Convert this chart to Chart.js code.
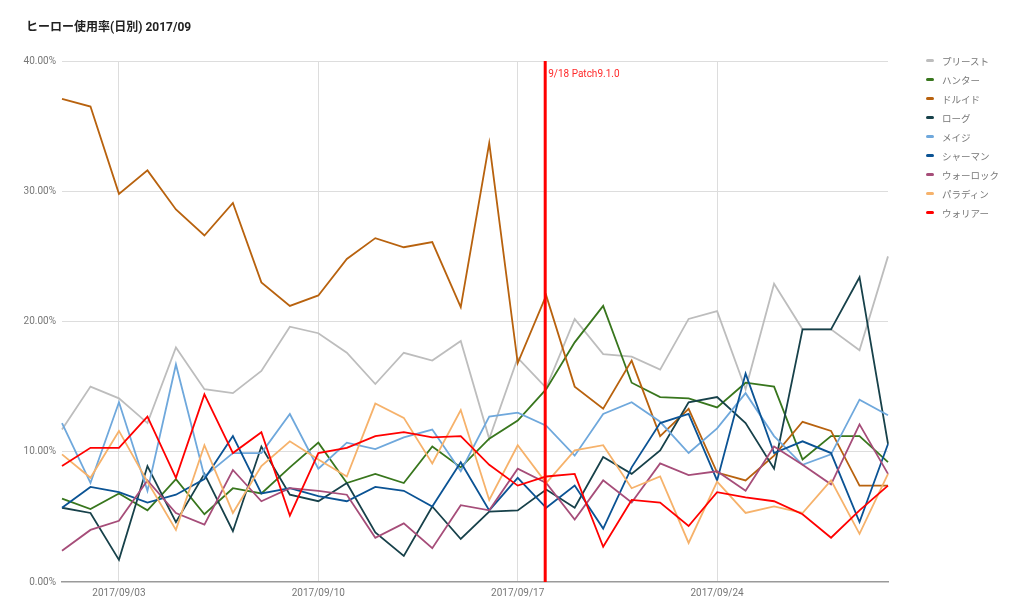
<!DOCTYPE html>
<html>
<head>
<meta charset="utf-8">
<script src="https://cdn.jsdelivr.net/npm/chart.js@4.4.1/dist/chart.umd.min.js"></script>
<style>
  html, body { margin: 0; padding: 0; background: #fff; }
  #wrap { position: relative; width: 1024px; height: 610px; }
  #title {
    position: absolute; left: 26px; top: 17px;
    font: bold 12px Roboto, "Noto Sans CJK JP", sans-serif; color: #222;
  }
  #legend { position: absolute; left: 926px; top: 51px; }
  .item {
    height: 19px; display: flex; align-items: center;
    font: 9.5px Roboto, "Noto Sans CJK JP", sans-serif; color: #777;
  }
  .mark { width: 8px; height: 3px; border-radius: 2px; margin-right: 8px; }
</style>
</head>
<body>
<div id="wrap">
  <canvas id="chart" width="1024" height="610"></canvas>
  <div id="title">ヒーロー使用率(日別) 2017/09</div>
  <div id="legend"></div>
</div>
<script>
// Days of September 2017
const days = ['2017/09/01','2017/09/02','2017/09/03','2017/09/04','2017/09/05','2017/09/06','2017/09/07','2017/09/08','2017/09/09','2017/09/10',
  '2017/09/11','2017/09/12','2017/09/13','2017/09/14','2017/09/15','2017/09/16','2017/09/17','2017/09/18','2017/09/19','2017/09/20',
  '2017/09/21','2017/09/22','2017/09/23','2017/09/24','2017/09/25','2017/09/26','2017/09/27','2017/09/28','2017/09/29','2017/09/30'];
const shownDays = ['2017/09/03', '2017/09/10', '2017/09/17', '2017/09/24'];

// Usage rate per hero (%)
const priest  = [11.7,15.0,14.1,12.2,18.0,14.8,14.5,16.2,19.6,19.1,17.6,15.2,17.6,17.0,18.5,11.0,17.2,14.9,20.2,17.5,17.3,16.3,20.2,20.8,14.8,22.9,19.4,19.4,17.8,25.0];
const hunter  = [6.4,5.6,6.8,5.5,7.9,5.2,7.2,6.8,8.8,10.7,7.6,8.3,7.6,10.4,8.8,11.0,12.4,14.8,18.4,21.2,15.3,14.2,14.1,13.4,15.3,15.0,9.4,11.2,11.2,9.2];
const druid   = [37.1,36.5,29.8,31.6,28.6,26.6,29.1,23.0,21.2,22.0,24.8,26.4,25.7,26.1,21.1,33.7,16.8,22.0,15.0,13.3,17.0,11.2,13.3,8.4,7.8,9.7,12.3,11.6,7.4,7.4];
const rogue   = [5.7,5.3,1.7,8.9,4.6,8.3,3.9,10.4,6.7,6.2,7.6,3.8,2.0,5.8,3.3,5.4,5.5,7.1,5.7,9.6,8.3,10.1,13.8,14.2,12.2,8.7,19.4,19.4,23.4,10.6];
const mage    = [12.2,7.6,13.8,7.0,16.7,8.1,9.9,9.9,12.9,8.7,10.7,10.2,11.1,11.7,8.5,12.7,13.0,12.0,9.7,12.9,13.8,12.3,9.9,11.8,14.5,11.2,9.0,9.8,14.0,12.8];
const shaman  = [5.7,7.3,6.9,6.1,6.7,7.9,11.2,6.8,7.2,6.6,6.2,7.3,7.0,5.8,9.2,5.5,8.0,5.7,7.4,4.1,8.8,12.2,12.9,7.8,16.0,9.9,10.8,9.9,4.6,10.6];
const warlock = [2.4,4.0,4.7,7.8,5.3,4.4,8.6,6.2,7.2,7.0,6.7,3.4,4.5,2.6,5.9,5.5,8.7,7.6,4.8,7.8,6.1,9.1,8.2,8.5,7.0,10.4,9.0,7.5,12.1,8.3];
const paladin = [9.8,8.0,11.6,7.7,4.0,10.5,5.3,8.9,10.8,9.4,8.1,13.7,12.6,9.1,13.2,6.3,10.5,7.6,10.1,10.5,7.2,8.1,3.0,7.7,5.3,5.8,5.3,7.8,3.7,8.3];
const warrior = [8.9,10.3,10.3,12.7,8.0,14.4,9.9,11.5,5.1,9.9,10.3,11.2,11.5,11.1,11.2,9.0,7.4,8.1,8.3,2.7,6.3,6.1,4.3,6.9,6.5,6.2,5.2,3.4,5.5,7.4];

const heroNames = ['プリースト','ハンター','ドルイド','ローグ','メイジ','シャーマン','ウォーロック','パラディン','ウォリアー'];
const heroSeries = [priest, hunter, druid, rogue, mage, shaman, warlock, paladin, warrior];
const heroColors = ['#bdbdbd','#38761d','#b8620e','#17414a','#6fa8dc','#0b5394','#a64d79','#f6b26b','#ff0000'];

const patchDay = '2017/09/18';
const patchLabel = '9/18 Patch9.1.0';

const FONT = 'Roboto, "Noto Sans CJK JP", sans-serif';

// Build the legend as html
const legendEl = document.getElementById('legend');
heroNames.forEach((name, i) => {
  const row = document.createElement('div');
  row.className = 'item';
  row.innerHTML = '<span class="mark" style="background:' + heroColors[i] + '"></span>' + name;
  legendEl.appendChild(row);
});

// Red vertical line for the patch day
const patchLine = {
  id: 'patchLine',
  afterDatasetsDraw(chart) {
    const ctx = chart.ctx;
    const area = chart.chartArea;
    const x = chart.scales.x.getPixelForValue(days.indexOf(patchDay)) - 1;
    ctx.save();
    ctx.strokeStyle = '#ff0000';
    ctx.lineWidth = 3;
    ctx.beginPath();
    ctx.moveTo(x, area.top);
    ctx.lineTo(x, area.bottom);
    ctx.stroke();
    ctx.fillStyle = '#ff2a2a';
    ctx.font = '10px ' + FONT;
    ctx.textBaseline = 'middle';
    ctx.fillText(patchLabel, x + 3, area.top + 13);
    ctx.restore();
  }
};

const datasets = heroSeries.map((values, i) => ({
  label: heroNames[i],
  data: values,
  borderColor: heroColors[i],
  backgroundColor: heroColors[i],
  borderWidth: 1.8,
  pointRadius: 0,
  tension: 0,
  order: heroSeries.length - i
}));

new Chart(document.getElementById('chart'), {
  type: 'line',
  data: { labels: days, datasets: datasets },
  options: {
    responsive: false,
    animation: false,
    layout: { padding: { top: 61, right: 136, left: 0, bottom: 0 } },
    plugins: {
      legend: { display: false },
      title: { display: false },
      tooltip: { enabled: false }
    },
    scales: {
      x: {
        type: 'category',
        offset: false,
        afterFit: s => { s.height = 28; },
        border: { color: '#9a9a9a', width: 1.5 },
        grid: { color: '#dddddd', drawTicks: false },
        ticks: {
          autoSkip: false,
          maxRotation: 0,
          padding: 5,
          color: '#777',
          font: { family: FONT, size: 10 },
          callback: function(value) {
            const d = days[value];
            return shownDays.includes(d) ? d : null;
          }
        }
      },
      y: {
        min: 0,
        max: 40,
        afterFit: s => { s.width = 62; },
        border: { display: false },
        grid: {
          drawTicks: false,
          color: c => (c.tick && c.tick.value === 0) ? 'rgba(0,0,0,0)' : '#dddddd'
        },
        ticks: {
          stepSize: 10,
          padding: 6,
          color: '#777',
          font: { family: FONT, size: 10 },
          callback: v => v.toFixed(2) + '%'
        }
      }
    }
  },
  plugins: [patchLine]
});
</script>
</body>
</html>
